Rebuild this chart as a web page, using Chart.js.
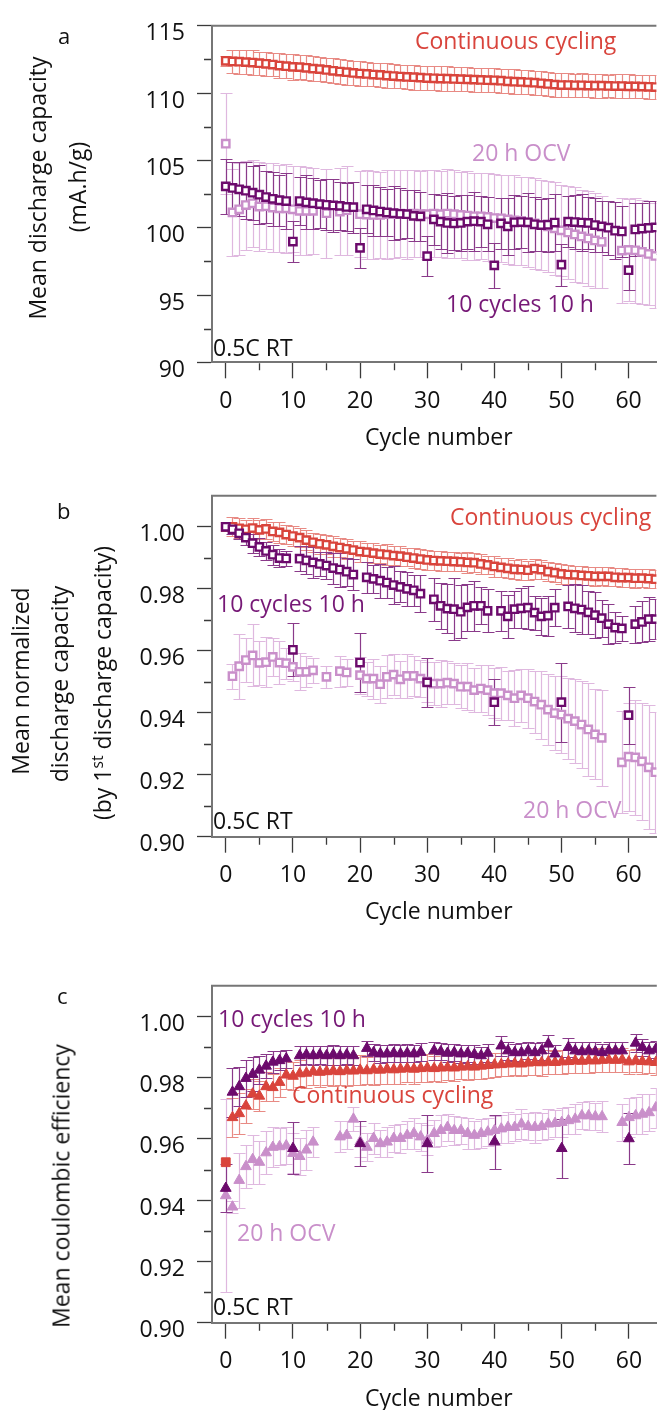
<!DOCTYPE html>
<html>
<head>
<meta charset="utf-8">
<script src="https://cdn.jsdelivr.net/npm/chart.js@4.4.1/dist/chart.umd.min.js"></script>
<style>
html,body{margin:0;padding:0;background:#fff;}
body{position:relative;width:664px;height:1410px;overflow:hidden;}
canvas{position:absolute;left:0;}
.t{position:absolute;font-family:'Open Sans';font-size:23px;line-height:31px;white-space:nowrap;z-index:2;}
.r{position:absolute;font-family:'Open Sans';font-size:23px;line-height:31px;white-space:nowrap;transform:translate(-50%,-50%) rotate(-90deg);color:#111;z-index:2;}
.l{position:absolute;font-family:'Open Sans';font-size:22px;line-height:30px;color:#111;z-index:2;}
sup{font-size:0.68em;line-height:0;vertical-align:0.5em;}
</style>
</head>
<body>
<canvas id="ca" width="664" height="460" style="top:0px"></canvas>
<canvas id="cb" width="664" height="470" style="top:470px"></canvas>
<canvas id="cc" width="664" height="450" style="top:960px"></canvas>

<!-- panel a text -->
<div class="l" style="left:58px;top:20px">a</div>
<div class="r" style="left:37px;top:188px">Mean discharge capacity</div>
<div class="r" style="left:77px;top:187px">(mA.h/g)</div>
<div class="t" style="left:415px;top:25px;color:#d9443c">Continuous cycling</div>
<div class="t" style="left:472px;top:137px;color:#c98fca">20 h OCV</div>
<div class="t" style="left:446px;top:288px;color:#761876">10 cycles 10 h</div>
<div class="t" style="left:213px;top:332px;color:#111">0.5C RT</div>
<div class="t" style="left:365px;top:421px;color:#111">Cycle number</div>

<!-- panel b text -->
<div class="l" style="left:57px;top:495px">b</div>
<div class="r" style="left:20px;top:681px">Mean normalized</div>
<div class="r" style="left:59px;top:684px">discharge capacity</div>
<div class="r" style="left:102px;top:683px">(by 1<sup>st</sup> discharge capacity)</div>
<div class="t" style="left:450px;top:501px;color:#d9443c">Continuous cycling</div>
<div class="t" style="left:217px;top:588px;color:#761876">10 cycles 10 h</div>
<div class="t" style="left:523px;top:794px;color:#c98fca">20 h OCV</div>
<div class="t" style="left:213px;top:805px;color:#111">0.5C RT</div>
<div class="t" style="left:365px;top:895px;color:#111">Cycle number</div>

<!-- panel c text -->
<div class="l" style="left:57px;top:980px">c</div>
<div class="r" style="left:61px;top:1186px">Mean coulombic efficiency</div>
<div class="t" style="left:218px;top:1003px;color:#761876">10 cycles 10 h</div>
<div class="t" style="left:292px;top:1079px;color:#d9443c">Continuous cycling</div>
<div class="t" style="left:237px;top:1217px;color:#c98fca">20 h OCV</div>
<div class="t" style="left:213px;top:1291px;color:#111">0.5C RT</div>
<div class="t" style="left:365px;top:1382px;color:#111">Cycle number</div>

<script>
// ---------------- DATA ----------------
const cycles = [
 0,1,2,3,4,5,6,7,8,9,
 10,11,12,13,14,15,16,17,18,19,
 20,21,22,23,24,25,26,27,28,29,
 30,31,32,33,34,35,36,37,38,39,
 40,41,42,43,44,45,46,47,48,49,
 50,51,52,53,54,55,56,57,58,59,
 60,61,62,63,64];

const xTicks = [0,10,20,30,40,50,60];
const xMinor = [5,15,25,35,45,55];

// Panel a: mean discharge capacity (mA.h/g)
const yTicksA = [90,95,100,105,110,115];
const yMinorA = [92.5,97.5,102.5,107.5,112.5];
const capCont = [
 112.40,112.35,112.33,112.30,112.27,112.22,112.18,112.12,112.05,112.00,
 111.95,111.93,111.88,111.82,111.78,111.72,111.66,111.60,111.55,111.50,
 111.45,111.42,111.38,111.35,111.30,111.27,111.23,111.20,111.18,111.15,
 111.12,111.10,111.08,111.07,111.05,111.03,111.02,111.00,110.98,110.96,
 110.95,110.92,110.88,110.85,110.83,110.80,110.77,110.73,110.68,110.63,
 110.60,110.60,110.58,110.58,110.56,110.55,110.55,110.53,110.52,110.52,
 110.50,110.50,110.48,110.47,110.45];
const errContA = [
 0.35,0.85,0.90,0.88,0.90,0.85,0.90,0.88,0.92,0.90,
 0.95,0.90,0.92,0.90,0.88,0.90,0.92,0.90,0.93,0.90,
 0.92,0.90,0.88,0.90,0.92,0.90,0.88,0.90,0.92,0.90,
 0.90,0.88,0.90,0.92,0.90,0.88,0.90,0.90,0.92,0.90,
 0.90,0.88,0.90,0.92,0.90,0.90,0.88,0.90,0.92,0.90,
 0.90,0.88,0.85,0.90,0.88,0.90,0.90,0.85,0.88,0.90,
 0.90,0.88,0.85,0.90,0.90];
const cap10h = [
 103.07,102.95,102.85,102.75,102.60,102.45,102.28,102.15,102.04,101.98,
 98.97,101.98,101.88,101.82,101.75,101.70,101.65,101.62,101.54,101.52,
 98.50,101.37,101.28,101.20,101.13,101.08,101.03,101.00,100.88,100.84,
 97.88,100.62,100.45,100.35,100.32,100.35,100.45,100.48,100.45,100.25,
 97.20,100.32,100.10,100.40,100.42,100.40,100.25,100.20,100.22,100.38,
 97.25,100.45,100.42,100.38,100.35,100.20,100.10,100.00,99.78,99.72,
 96.84,99.87,99.94,99.98,100.02];
const err10hA = [
 2.05,1.90,2.00,2.10,2.00,2.20,1.90,2.00,1.90,2.10,
 1.50,1.75,2.00,1.90,1.80,1.90,2.00,1.80,1.80,1.90,
 1.47,1.80,1.90,1.85,1.75,2.00,1.90,1.80,1.90,1.80,
 1.50,1.90,2.00,2.20,2.00,2.10,2.00,2.20,1.90,2.00,
 1.65,1.90,2.10,2.00,1.90,2.20,2.00,1.90,2.00,2.10,
 1.55,1.90,2.00,2.10,1.90,2.00,1.90,2.00,2.10,1.90,
 1.45,2.00,1.90,2.00,2.00];
const capOCV = [
 106.24,101.13,101.37,101.68,101.81,101.57,101.60,101.50,101.44,101.44,
 101.37,101.25,101.25,101.25,null,101.08,null,101.20,101.30,null,
 101.00,100.97,100.95,100.95,101.00,101.00,101.05,101.00,101.05,101.00,
 101.00,101.05,101.00,101.05,101.00,100.95,100.90,100.85,100.85,100.80,
 100.72,100.70,100.62,100.55,100.50,100.40,100.32,100.20,100.10,99.95,
 99.80,99.65,99.50,99.35,99.20,99.05,98.95,null,null,98.30,
 98.35,98.32,98.20,98.05,97.90];
const errOCVA = [
 3.77,3.20,3.40,3.30,3.25,3.30,3.20,3.30,3.25,3.30,
 3.20,3.30,3.25,3.20,null,3.30,null,3.25,3.30,null,
 3.20,3.30,3.25,3.20,3.30,3.25,3.20,3.30,3.25,3.20,
 3.30,3.25,3.20,3.30,3.25,3.20,3.30,3.25,3.20,3.30,
 3.30,3.25,3.30,3.35,3.30,3.35,3.40,3.35,3.40,3.45,
 3.40,3.45,3.50,3.45,3.50,3.50,3.40,null,null,3.90,
 3.80,3.90,3.85,3.80,3.90];

// Panel b: mean normalized discharge capacity
const yTicksB = [0.90,0.92,0.94,0.96,0.98,1.00];
const yMinorB = [0.91,0.93,0.95,0.97,0.99];
const normCont = [
 1.0000,1.0000,0.9995,0.9992,0.9996,0.9990,0.9993,0.9985,0.9982,0.9975,
 0.9970,0.9965,0.9957,0.9950,0.9945,0.9942,0.9937,0.9933,0.9929,0.9925,
 0.9920,0.9918,0.9915,0.9912,0.9910,0.9907,0.9905,0.9902,0.9899,0.9896,
 0.9893,0.9891,0.9890,0.9889,0.9888,0.9887,0.9885,0.9884,0.9880,0.9877,
 0.9872,0.9869,0.9866,0.9863,0.9862,0.9860,0.9865,0.9862,0.9855,0.9852,
 0.9848,0.9846,0.9845,0.9843,0.9842,0.9840,0.9840,0.9840,0.9837,0.9836,
 0.9836,0.9834,0.9834,0.9833,0.9831];
const errContB = [
 0,0.0030,0.0032,0.0030,0.0033,0.0031,0.0032,0.0030,0.0033,0.0031,
 0.0032,0.0030,0.0033,0.0031,0.0032,0.0030,0.0033,0.0031,0.0032,0.0030,
 0.0033,0.0031,0.0032,0.0030,0.0033,0.0031,0.0032,0.0030,0.0033,0.0031,
 0.0032,0.0030,0.0033,0.0031,0.0032,0.0030,0.0033,0.0031,0.0032,0.0030,
 0.0033,0.0031,0.0032,0.0030,0.0033,0.0031,0.0032,0.0030,0.0031,0.0030,
 0.0031,0.0030,0.0029,0.0030,0.0029,0.0030,0.0029,0.0030,0.0029,0.0030,
 0.0029,0.0030,0.0029,0.0030,0.0029];
const norm10h = [
 1.0000,0.9992,0.9979,0.9965,0.9947,0.9935,0.9922,0.9910,0.9899,0.9898,
 0.9603,0.9897,0.9892,0.9885,0.9880,0.9875,0.9867,0.9862,0.9855,0.9846,
 0.9562,0.9837,0.9832,0.9826,0.9820,0.9812,0.9806,0.9800,0.9795,0.9784,
 0.9498,0.9766,0.9745,0.9736,0.9734,0.9726,0.9740,0.9745,0.9745,0.9729,
 0.9434,0.9729,0.9711,0.9734,0.9737,0.9739,0.9723,0.9711,0.9713,0.9739,
 0.9434,0.9743,0.9737,0.9733,0.9724,0.9715,0.9705,0.9686,0.9675,0.9672,
 0.9392,0.9686,0.9693,0.9702,0.9702];
const err10hB = [
 0,0.0015,0.0020,0.0025,0.0030,0.0028,0.0030,0.0032,0.0030,0.0025,
 0.0086,0.0040,0.0045,0.0050,0.0040,0.0045,0.0050,0.0055,0.0045,0.0050,
 0.0095,0.0050,0.0045,0.0055,0.0050,0.0060,0.0050,0.0055,0.0050,0.0060,
 0.0078,0.0070,0.0074,0.0080,0.0100,0.0085,0.0076,0.0080,0.0060,0.0070,
 0.0075,0.0065,0.0070,0.0060,0.0065,0.0070,0.0055,0.0060,0.0065,0.0060,
 0.0128,0.0070,0.0077,0.0080,0.0070,0.0075,0.0060,0.0065,0.0050,0.0040,
 0.0092,0.0060,0.0066,0.0070,0.0065];
const normOCV = [
 1.0000,0.9518,0.9550,0.9570,0.9585,0.9561,0.9563,0.9580,0.9562,0.9560,
 0.9548,0.9532,0.9532,0.9537,null,0.9516,null,0.9534,0.9530,null,
 0.9521,0.9510,0.9510,0.9492,0.9516,0.9523,0.9508,0.9519,0.9519,0.9510,
 0.9500,0.9494,0.9494,0.9497,0.9494,0.9484,0.9484,0.9473,0.9478,0.9473,
 0.9463,0.9463,0.9456,0.9447,0.9456,0.9447,0.9436,0.9426,0.9410,0.9399,
 0.9394,0.9381,0.9373,0.9362,0.9346,0.9330,0.9319,null,null,0.9240,
 0.9258,0.9256,0.9243,0.9224,0.9208];
const errOCVB = [
 0,0.0040,0.0105,0.0070,0.0100,0.0070,0.0080,0.0060,0.0070,0.0050,
 0.0045,0.0060,0.0050,0.0040,null,0.0035,null,0.0050,0.0045,null,
 0.0060,0.0055,0.0065,0.0060,0.0070,0.0065,0.0060,0.0070,0.0065,0.0060,
 0.0065,0.0070,0.0075,0.0070,0.0065,0.0070,0.0075,0.0070,0.0075,0.0080,
 0.0080,0.0085,0.0080,0.0090,0.0085,0.0095,0.0100,0.0110,0.0115,0.0120,
 0.0125,0.0130,0.0135,0.0140,0.0150,0.0145,0.0155,null,null,0.0165,
 0.0175,0.0185,0.0190,0.0200,0.0195];

// Panel c: mean coulombic efficiency
const yTicksC = [0.90,0.92,0.94,0.96,0.98,1.00];
const yMinorC = [0.91,0.93,0.95,0.97,0.99];
const ceCont = [
 0.9524,0.9670,0.9683,0.9708,0.9747,0.9740,0.9771,0.9768,0.9785,0.9809,
 0.9805,0.9813,0.9815,0.9820,0.9818,0.9820,0.9822,0.9820,0.9823,0.9822,
 0.9825,0.9823,0.9826,0.9825,0.9828,0.9826,0.9828,0.9830,0.9828,0.9830,
 0.9832,0.9830,0.9832,0.9833,0.9832,0.9835,0.9836,0.9835,0.9838,0.9840,
 0.9842,0.9843,0.9845,0.9846,0.9845,0.9848,0.9850,0.9849,0.9851,0.9850,
 0.9852,0.9853,0.9855,0.9854,0.9856,0.9855,0.9857,0.9858,0.9857,0.9858,
 0.9852,0.9855,0.9853,0.9852,0.9850];
const errContC = [
 0,0.0064,0.0066,0.0055,0.0050,0.0050,0.0048,0.0045,0.0048,0.0045,
 0.0045,0.0045,0.0048,0.0045,0.0050,0.0045,0.0048,0.0045,0.0050,0.0045,
 0.0048,0.0045,0.0050,0.0045,0.0048,0.0045,0.0050,0.0045,0.0048,0.0045,
 0.0045,0.0040,0.0045,0.0040,0.0042,0.0040,0.0045,0.0040,0.0042,0.0040,
 0.0040,0.0038,0.0040,0.0038,0.0040,0.0038,0.0040,0.0042,0.0040,0.0038,
 0.0040,0.0038,0.0040,0.0038,0.0040,0.0038,0.0040,0.0038,0.0040,0.0038,
 0.0040,0.0038,0.0040,0.0038,0.0040];
const ce10h = [
 0.9439,0.9753,0.9771,0.9798,0.9811,0.9825,0.9838,0.9851,0.9856,0.9862,
 0.9569,0.9872,0.9875,0.9872,0.9875,0.9872,0.9875,0.9872,0.9875,0.9872,
 0.9585,0.9896,0.9882,0.9878,0.9878,0.9880,0.9878,0.9880,0.9878,0.9883,
 0.9585,0.9888,0.9885,0.9880,0.9882,0.9878,0.9880,0.9876,0.9872,0.9880,
 0.9591,0.9904,0.9888,0.9882,0.9882,0.9888,0.9882,0.9888,0.9910,0.9878,
 0.9569,0.9899,0.9888,0.9885,0.9888,0.9885,0.9882,0.9888,0.9888,0.9888,
 0.9601,0.9913,0.9899,0.9888,0.9893];
const err10hC = [
 0.0078,0.0080,0.0065,0.0060,0.0055,0.0045,0.0040,0.0035,0.0030,0.0030,
 0.0085,0.0030,0.0030,0.0032,0.0030,0.0030,0.0032,0.0030,0.0030,0.0032,
 0.0072,0.0025,0.0028,0.0030,0.0028,0.0030,0.0028,0.0030,0.0028,0.0030,
 0.0093,0.0030,0.0028,0.0030,0.0028,0.0030,0.0028,0.0030,0.0028,0.0030,
 0.0088,0.0032,0.0030,0.0028,0.0030,0.0028,0.0032,0.0030,0.0028,0.0030,
 0.0095,0.0030,0.0028,0.0030,0.0028,0.0030,0.0028,0.0030,0.0028,0.0030,
 0.0083,0.0030,0.0028,0.0030,0.0028];
const ceOCV = [
 0.9415,0.9378,0.9465,0.9510,0.9533,0.9524,0.9555,0.9573,0.9575,0.9578,
 0.9553,0.9543,0.9564,0.9590,null,null,null,0.9607,0.9612,0.9665,
 0.9591,0.9573,0.9602,0.9585,0.9590,0.9602,0.9602,0.9612,0.9618,0.9607,
 0.9596,0.9618,0.9628,0.9638,0.9628,0.9628,0.9618,0.9612,0.9618,0.9623,
 0.9628,0.9633,0.9638,0.9638,0.9649,0.9641,0.9638,0.9641,0.9649,0.9651,
 0.9654,0.9660,0.9665,0.9676,0.9676,0.9673,0.9673,null,null,0.9654,
 0.9670,0.9676,0.9681,0.9686,0.9702];
const errOCVC = [
 0.0316,0.0020,0.0090,0.0070,0.0080,0.0070,0.0070,0.0065,0.0060,0.0060,
 0.0065,0.0060,0.0064,0.0050,null,null,null,0.0050,0.0045,0.0040,
 0.0050,0.0045,0.0050,0.0045,0.0050,0.0045,0.0048,0.0045,0.0050,0.0045,
 0.0048,0.0045,0.0050,0.0045,0.0048,0.0045,0.0050,0.0045,0.0048,0.0045,
 0.0048,0.0045,0.0050,0.0045,0.0048,0.0045,0.0050,0.0045,0.0048,0.0045,
 0.0048,0.0045,0.0050,0.0045,0.0048,0.0045,0.0050,null,null,0.0060,
 0.0065,0.0060,0.0065,0.0060,0.0065];

// ---------------- STYLE ----------------
const RED = '#d9443c', RED_E = '#e88a84';
const PUR = '#6c0a6c', PUR_E = '#8a3a8a';
const LPU = '#c98fca', LPU_E = '#dfb8df';
const AXIS = '#767676', TICK = '#3a3a3a', TXT = '#111';
const FONT = "'Open Sans'";

const pts = arr => cycles.map((c, i) => ({x: c, y: arr[i]}));

const errorBars = {
  id: 'errorBars',
  beforeDatasetsDraw(chart) {
    const {ctx, chartArea: ca, scales: {x, y}} = chart;
    ctx.save();
    ctx.beginPath();
    ctx.rect(ca.left, ca.top - 1, ca.right - ca.left, ca.bottom - ca.top + 2);
    ctx.clip();
    const ds = chart.data.datasets;
    for (let d = ds.length - 1; d >= 0; d--) {
      const set = ds[d];
      if (!set.errors) continue;
      ctx.strokeStyle = set.errColor;
      ctx.lineWidth = 1.2;
      ctx.beginPath();
      set.data.forEach((p, i) => {
        const e = set.errors[i];
        if (p.y == null || e == null || e === 0) return;
        const px = Math.round(x.getPixelForValue(p.x)) + 0.5;
        const t = Math.round(y.getPixelForValue(p.y + e)) + 0.5;
        const b = Math.round(y.getPixelForValue(p.y - e)) + 0.5;
        const cw = 6;
        ctx.moveTo(px, t); ctx.lineTo(px, b);
        ctx.moveTo(px - cw, t); ctx.lineTo(px + cw, t);
        ctx.moveTo(px - cw, b); ctx.lineTo(px + cw, b);
      });
      ctx.stroke();
    }
    ctx.restore();
  }
};

const frame = {
  id: 'frame',
  afterDraw(chart, args, opts) {
    const {ctx, chartArea: ca, scales: {x, y}} = chart;
    ctx.save();
    ctx.strokeStyle = AXIS; ctx.lineWidth = 2;
    ctx.beginPath(); ctx.moveTo(ca.left - 1, ca.top); ctx.lineTo(ca.right, ca.top); ctx.stroke();
    ctx.strokeStyle = TICK; ctx.lineWidth = 1.3;
    ctx.beginPath();
    opts.yMinor.forEach(v => {
      const py = Math.round(y.getPixelForValue(v)) + 0.5;
      ctx.moveTo(ca.left - 8, py); ctx.lineTo(ca.left - 1, py);
    });
    xMinor.forEach(v => {
      const px = Math.round(x.getPixelForValue(v)) + 0.5;
      ctx.moveTo(px, ca.bottom + 1); ctx.lineTo(px, ca.bottom + 8);
    });
    ctx.stroke();
    ctx.restore();
  }
};

function makePanel(id, cfg) {
  const H = document.getElementById(id).height;
  return new Chart(document.getElementById(id), {
    type: 'scatter',
    data: {datasets: cfg.datasets},
    plugins: [errorBars, frame],
    options: {
      responsive: false,
      animation: false,
      events: [],
      layout: {padding: {top: cfg.top, right: 0, bottom: 0, left: 0}},
      plugins: {legend: {display: false}, tooltip: {enabled: false}, frame: {yMinor: cfg.yMinor}},
      scales: {
        x: {
          type: 'linear', min: -2.05, max: 64.15,
          afterFit: s => { s.height = H - cfg.bottom; },
          afterBuildTicks: s => { s.ticks = xTicks.map(v => ({value: v})); },
          border: {color: AXIS, width: 2},
          grid: {drawOnChartArea: false, drawTicks: true, tickLength: 16, tickColor: TICK, tickWidth: 1.3},
          ticks: {font: {family: FONT, size: 23}, color: TXT, padding: 9, maxRotation: 0, autoSkip: false}
        },
        y: {
          type: 'linear', min: cfg.yMin, max: cfg.yMax,
          afterFit: s => { s.width = 212; },
          afterBuildTicks: s => { s.ticks = cfg.yTicks.map(v => ({value: v})); },
          border: {color: AXIS, width: 2},
          grid: {drawOnChartArea: false, drawTicks: true, tickLength: 15, tickColor: TICK, tickWidth: 1.3},
          ticks: {font: {family: FONT, size: 23}, color: TXT, padding: 12, labelOffset: 8, callback: cfg.fmt}
        }
      }
    }
  });
}

const sq = (arr, err, col, ecol) => ({
  data: pts(arr), errors: err, errColor: ecol,
  pointStyle: 'rect', pointRadius: 5.2, pointHoverRadius: 5.2,
  pointBorderWidth: 2.4, borderColor: col, pointBackgroundColor: '#fff', backgroundColor: '#fff', showLine: false
});
const tri = (arr, err, col, ecol, firstSquare) => ({
  data: pts(arr), errors: err, errColor: ecol,
  pointStyle: ctx => (firstSquare && ctx.dataIndex === 0) ? 'rect' : 'triangle',
  pointRadius: 6.2, pointHoverRadius: 6.2,
  pointBorderWidth: 1, borderColor: col, pointBackgroundColor: col, backgroundColor: col, showLine: false
});

document.fonts.load("23px 'Open Sans'").then(draw, draw);
function draw() {
  makePanel('ca', {
    top: 18.6, bottom: 362.3, yMin: 90, yMax: 115, yTicks: yTicksA, yMinor: yMinorA,
    fmt: v => String(v),
    datasets: [
      sq(cap10h, err10hA, PUR, PUR_E),
      sq(capCont, errContA, RED, RED_E),
      sq(capOCV, errOCVA, LPU, LPU_E)
    ]
  });
  makePanel('cb', {
    top: 22, bottom: 366.7, yMin: 0.90, yMax: 1.01, yTicks: yTicksB, yMinor: yMinorB,
    fmt: v => v.toFixed(2),
    datasets: [
      sq(norm10h, err10hB, PUR, PUR_E),
      sq(normCont, errContB, RED, RED_E),
      sq(normOCV, errOCVB, LPU, LPU_E)
    ]
  });
  makePanel('cc', {
    top: 18.7, bottom: 362.7, yMin: 0.90, yMax: 1.01, yTicks: yTicksC, yMinor: yMinorC,
    fmt: v => v.toFixed(2),
    datasets: [
      tri(ce10h, err10hC, PUR, PUR_E, false),
      tri(ceCont, errContC, RED, RED_E, true),
      tri(ceOCV, errOCVC, LPU, LPU_E, false)
    ]
  });
}
</script>
</body>
</html>
